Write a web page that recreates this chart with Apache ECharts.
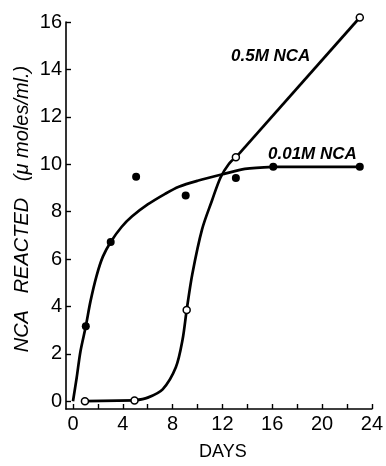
<!DOCTYPE html>
<html>
<head>
<meta charset="utf-8">
<script src="https://cdn.jsdelivr.net/npm/echarts@6/dist/echarts.min.js"></script>
<style>
html,body{margin:0;padding:0;background:#fff;}
#c{width:386px;height:466px;}
</style>
</head>
<body>
<div id="c"></div>
<script>
// Measured points
const pts001 = [[1.03,3.16],[3.03,6.72],[5.07,9.47],[9.05,8.68],[13.08,9.42],[16.08,9.89],[23.03,9.89]];
const pts05 = [[0.96,0.0],[4.94,0.03],[9.13,3.85],[13.08,10.29],[23.03,16.19]];
// Fitted curves
const curve001 = [[0,0],[0.3,1.0],[0.6,2.1],[1.03,3.16],[1.4,4.2],[1.9,5.3],[2.4,6.1],[3.03,6.72],[3.9,7.35],[4.75,7.8],[6,8.3],[7.4,8.75],[8.5,9.05],[10,9.3],[12.2,9.6],[13.8,9.8],[16.08,9.89]];
const line001 = [[16.08,9.89],[23.03,9.89]];
const flat05 = [[0.96,0.0],[4.94,0.03]];
const curve05 = [[4.94,0.03],[6,0.15],[7.2,0.5],[8.26,1.43],[8.8,2.6],[9.13,3.85],[9.58,5.36],[10.37,7.26],[11.17,8.48],[11.84,9.43],[12.5,10.0],[13.08,10.29]];
const line05 = [[13.08,10.29],[23.03,16.19]];
const xTicks = [0,2,4,6,8,10,12,14,16,18,20,22,24];
const xLabels = [0,4,8,12,16,20,24];
const yTicks = [0,2,4,6,8,10,12,14,16];

const FONT = 'Liberation Sans';
const chart = echarts.init(document.getElementById('c'), null, {renderer:'canvas'});
const lineStyle = {color:'#000', width:2.7};
function curve(data, smooth){
  return {type:'line', data:data, smooth:smooth, symbol:'none', lineStyle:lineStyle, silent:true, clip:false, z:2};
}
chart.setOption({
  animation:false,
  backgroundColor:'#fff',
  grid:{left:66, right:11.5, top:22, bottom:43, containLabel:false},
  xAxis:{
    type:'value', min:-0.56, max:24,
    name:'DAYS', nameLocation:'middle', nameGap:34,
    nameTextStyle:{fontFamily:FONT, fontSize:18, color:'#000', padding:[0,0,0,8]},
    axisLine:{show:true, onZero:false, lineStyle:{color:'#000', width:1.6}},
    axisTick:{show:true, inside:true, length:5, customValues:xTicks, lineStyle:{color:'#000', width:1.4}},
    axisLabel:{customValues:xLabels, fontFamily:FONT, fontSize:20, color:'#000', margin:5},
    splitLine:{show:false}
  },
  yAxis:{
    type:'value', min:-0.33, max:16,
    axisLine:{show:true, onZero:false, lineStyle:{color:'#000', width:1.6}},
    axisTick:{show:true, inside:true, length:5, customValues:yTicks, lineStyle:{color:'#000', width:1.4}},
    axisLabel:{customValues:yTicks, fontFamily:FONT, fontSize:20, color:'#000', margin:4},
    splitLine:{show:false}
  },
  series:[
    curve(curve001, 0.3),
    curve(line001, false),
    curve(flat05, false),
    curve(curve05, 0.3),
    curve(line05, false),
    {type:'scatter', data:pts001, symbol:'circle', symbolSize:8, clip:false,
     itemStyle:{color:'#000', opacity:1}, z:5},
    {type:'scatter', data:pts05, symbol:'circle', symbolSize:7, clip:false,
     itemStyle:{color:'#fff', borderColor:'#000', borderWidth:1.5, opacity:1}, z:5}
  ],
  graphic:[
    {type:'text', x:22, y:209, rotation:Math.PI/2,
     style:{text:'NCA   REACTED   (\u03bc moles/ml.)', font:'italic 20px "Liberation Sans"', fill:'#000', align:'center', verticalAlign:'middle'}},
    {type:'text', left:231, top:48, style:{text:'0.5M NCA', font:'italic bold 17px "Liberation Sans"', fill:'#000'}},
    {type:'text', left:268, top:146, style:{text:'0.01M NCA', font:'italic bold 17px "Liberation Sans"', fill:'#000'}}
  ]
});
</script>
</body>
</html>
